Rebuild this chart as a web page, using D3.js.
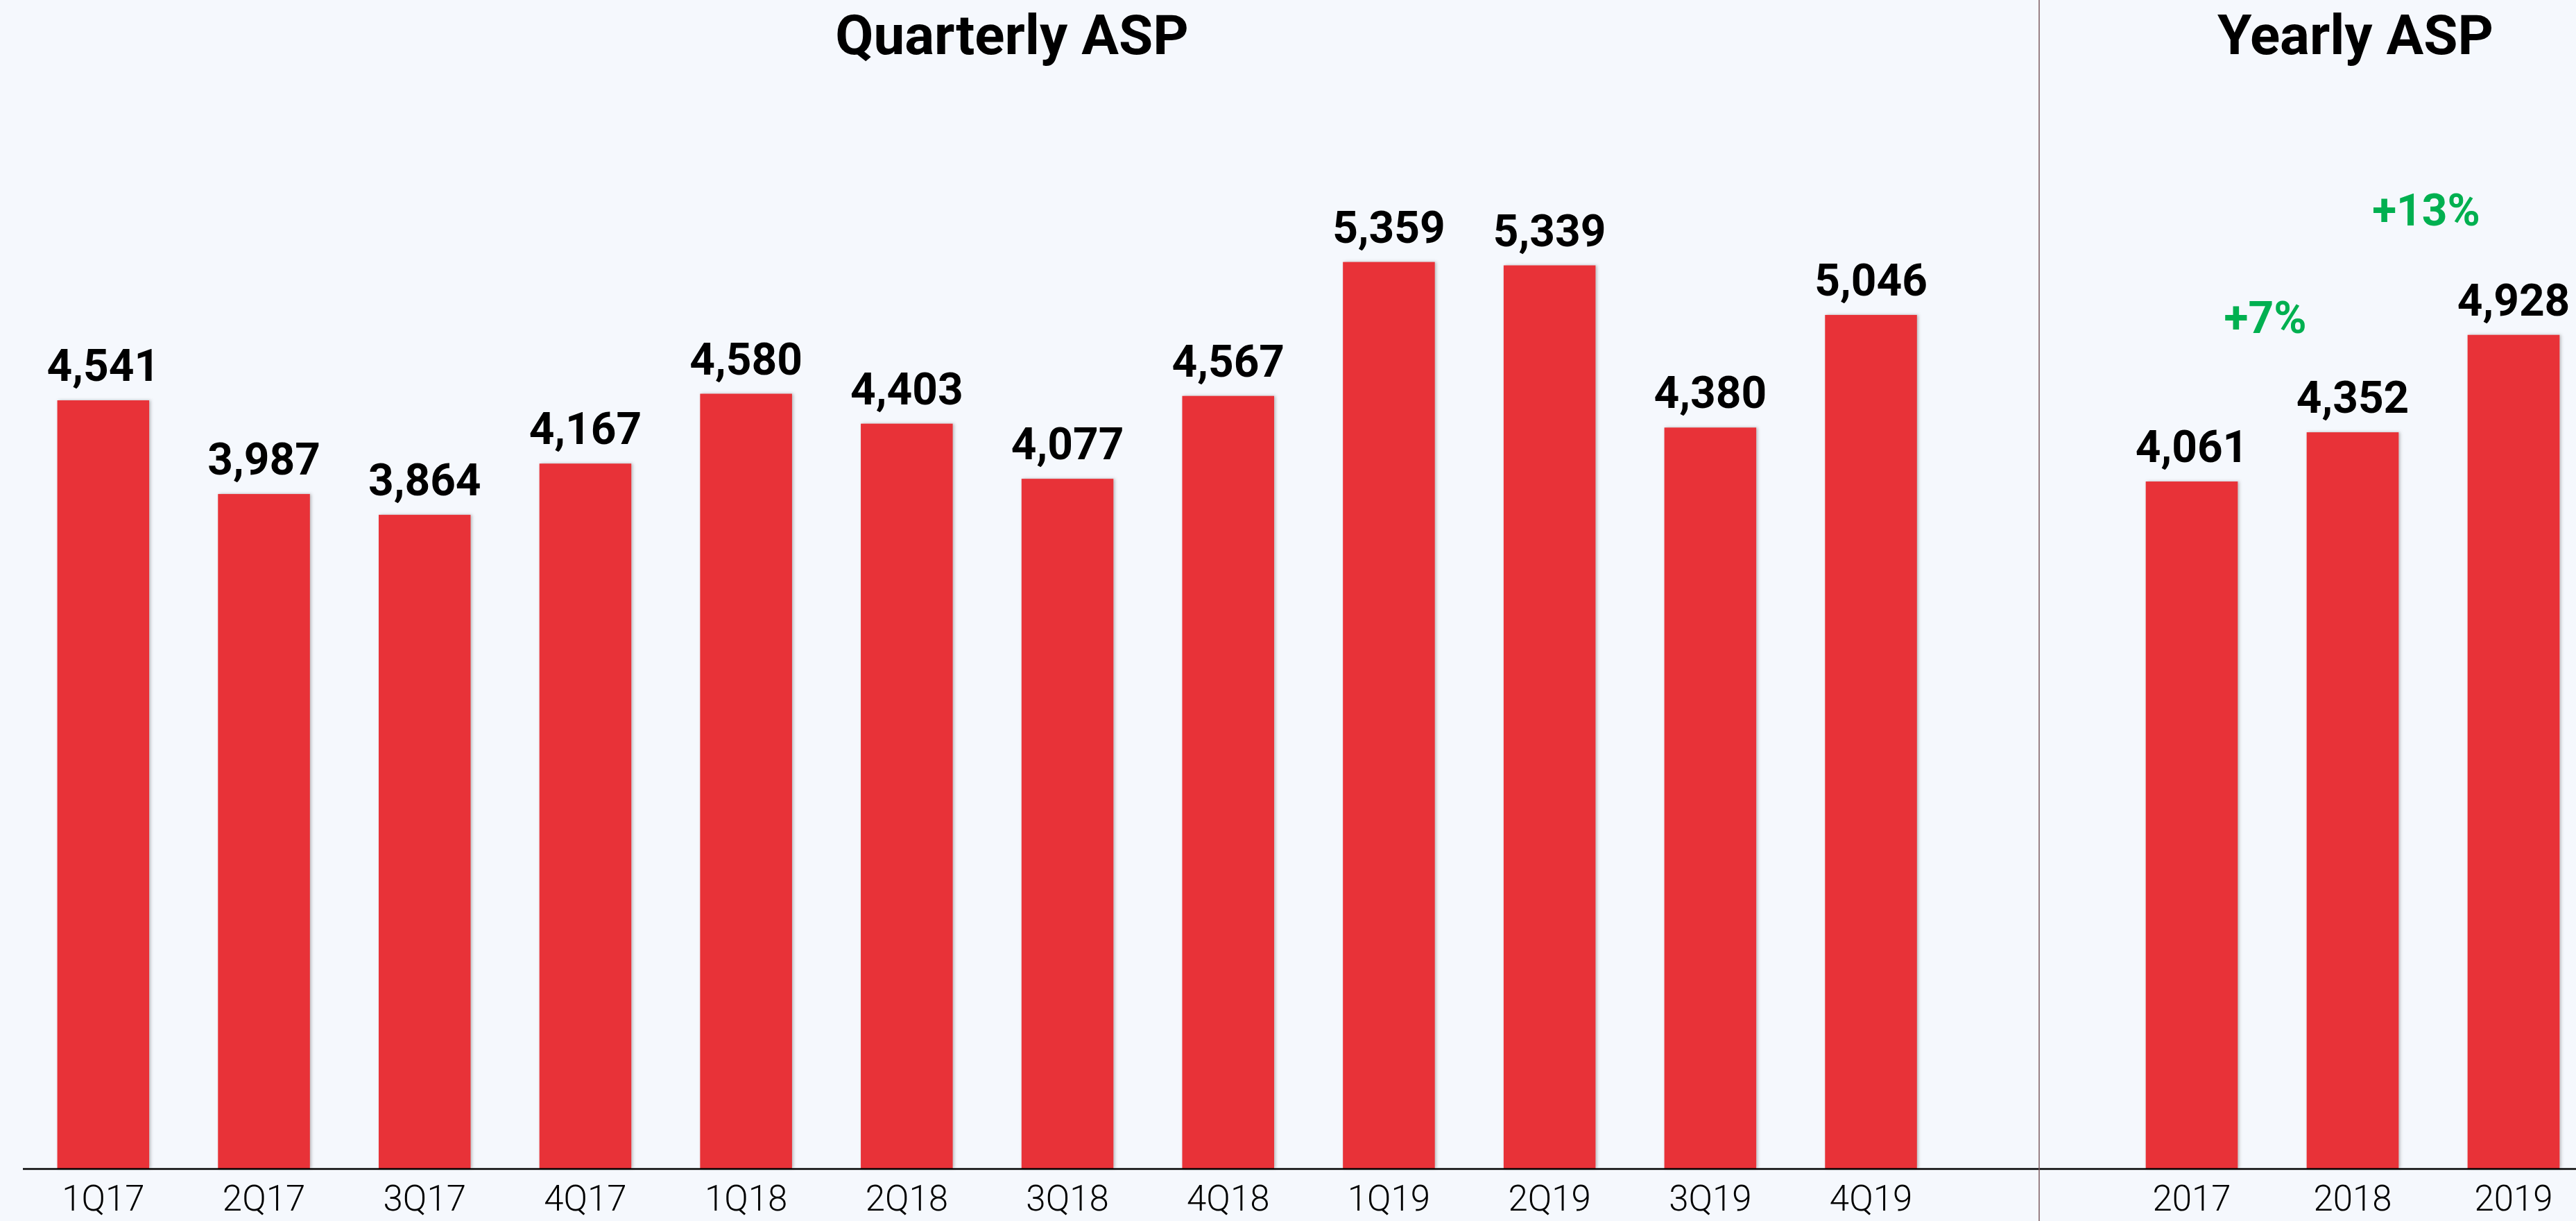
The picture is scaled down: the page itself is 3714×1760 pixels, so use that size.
<!DOCTYPE html>
<html>
<head>
<meta charset="utf-8">
<script src="https://cdn.jsdelivr.net/npm/d3@7"></script>
<style>
  html, body { margin: 0; padding: 0; background: #f5f8fd; }
  svg { display: block; }
  text { font-family: Roboto, "Liberation Sans", sans-serif; }
</style>
</head>
<body>
<script>
// Quarterly average selling price
const quarters = ["1Q17", "2Q17", "3Q17", "4Q17", "1Q18", "2Q18", "3Q18", "4Q18", "1Q19", "2Q19", "3Q19", "4Q19"];
const quarterlyASP = [4541, 3987, 3864, 4167, 4580, 4403, 4077, 4567, 5359, 5339, 4380, 5046];

// Yearly average selling price
const years = ["2017", "2018", "2019"];
const yearlyASP = [4061, 4352, 4928];

// Panel titles
const panelTitles = ["Quarterly ASP", "Yearly ASP"];

const W = 3714, H = 1760;
const baseY = 1684;
const barColor = "#e83137";
const growthColor = "#00b050";
const fmt = d3.format(",");

const svg = d3.select("body").append("svg")
  .attr("width", W).attr("height", H);

svg.append("rect").attr("width", W).attr("height", H).attr("fill", "#f5f8fd");

const defs = svg.append("defs");
const shadow = defs.append("filter").attr("id", "barShadow")
  .attr("x", "-20%").attr("y", "-5%").attr("width", "140%").attr("height", "110%");
shadow.append("feDropShadow")
  .attr("dx", 2).attr("dy", 0).attr("stdDeviation", 2)
  .attr("flood-color", "#6b6b6b").attr("flood-opacity", 0.45);

// Shared value scale: both panels use the same units per pixel
const y = d3.scaleLinear().domain([0, 6000]).range([baseY, baseY - 6000 * 0.24377]);

const xQ = d3.scaleBand().domain(quarters).range([33, 33 + 12 * 231.7])
  .paddingInner(0.428).paddingOuter(0.214);
const xY = d3.scaleBand().domain(years).range([3044, 3044 + 3 * 232])
  .paddingInner(0.428).paddingOuter(0.214);

function drawPanel(x, cats, vals) {
  const g = svg.append("g");
  const data = cats.map((c, i) => ({ c, v: vals[i] }));
  g.selectAll("rect.bar").data(data).join("rect")
    .attr("class", "bar")
    .attr("x", d => x(d.c))
    .attr("width", x.bandwidth())
    .attr("y", d => y(d.v))
    .attr("height", d => y(0) - y(d.v))
    .attr("fill", barColor)
    .attr("filter", "url(#barShadow)");
  g.selectAll("text.val").data(data).join("text")
    .attr("class", "val")
    .attr("x", d => x(d.c) + x.bandwidth() / 2)
    .attr("y", d => y(d.v) - 28)
    .attr("text-anchor", "middle")
    .attr("font-size", 64)
    .attr("font-weight", 700)
    .attr("fill", "#000")
    .text(d => fmt(d.v));

  const axis = d3.axisBottom(x).tickSize(0).tickPadding(25);
  const ag = svg.append("g").attr("transform", `translate(0,${baseY})`).call(axis);
  ag.select(".domain").remove();
  ag.selectAll("text")
    .attr("font-size", 51)
    .attr("font-weight", 300)
    .attr("fill", "#000")
    .style("font-family", "Roboto, sans-serif");
}

drawPanel(xQ, quarters, quarterlyASP);
drawPanel(xY, years, yearlyASP);

// Baseline across both panels
svg.append("line")
  .attr("x1", 33).attr("x2", W)
  .attr("y1", baseY + 1).attr("y2", baseY + 1)
  .attr("stroke", "#000").attr("stroke-width", 2.5);

// Divider between quarterly and yearly panels
svg.append("line")
  .attr("x1", 2940).attr("x2", 2940)
  .attr("y1", 0).attr("y2", H)
  .attr("stroke", "#7a5a5e").attr("stroke-width", 1.5);

// Titles
const titleX = [1459, 3396];
svg.selectAll("text.title").data(panelTitles).join("text")
  .attr("class", "title")
  .attr("x", (d, i) => titleX[i])
  .attr("y", 78)
  .attr("text-anchor", "middle")
  .attr("font-size", 80)
  .attr("font-weight", 700)
  .attr("fill", "#000")
  .text(d => d);

// Year-over-year growth labels between consecutive yearly bars
const growth = yearlyASP.slice(1).map((v, i) => ({
  a: years[i], b: years[i + 1], v, pct: Math.round((v / yearlyASP[i] - 1) * 100)
}));
const growthLift = [143, 158];
svg.selectAll("text.growth").data(growth).join("text")
  .attr("class", "growth")
  .attr("x", d => (xY(d.a) + xY(d.b) + xY.bandwidth()) / 2 - 10)
  .attr("y", (d, i) => y(d.v) - growthLift[i])
  .attr("text-anchor", "middle")
  .attr("font-size", 64)
  .attr("font-weight", 700)
  .attr("fill", growthColor)
  .text(d => "+" + d.pct + "%");
</script>
</body>
</html>
